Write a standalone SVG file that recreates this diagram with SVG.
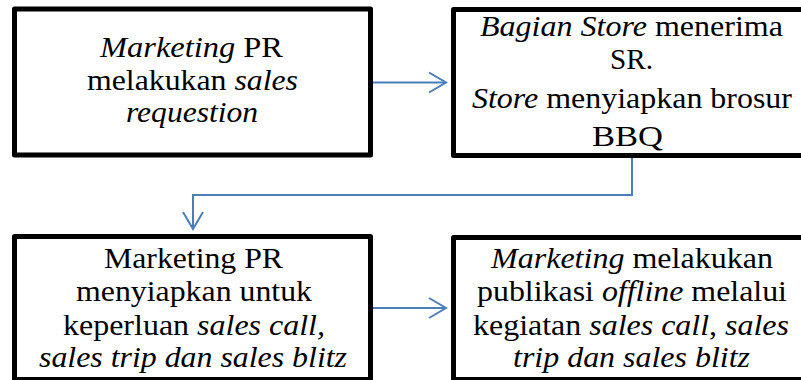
<svg xmlns="http://www.w3.org/2000/svg" width="801" height="380" viewBox="0 0 801 380">
<defs>
<marker id="ah" viewBox="0 0 20 24" refX="18" refY="12" markerWidth="20" markerHeight="24" markerUnits="userSpaceOnUse" orient="auto">
<path d="M1,2 L18,12 L1,22" fill="none" stroke="#4a7ebb" stroke-width="2"/>
</marker>
</defs>
<g id="connectors" fill="none" stroke="#4a7ebb" stroke-width="2">
<line x1="373" y1="82.5" x2="446" y2="82.5" marker-end="url(#ah)"/>
<polyline points="632,157 632,195 193,195 193,229" marker-end="url(#ah)"/>
<line x1="373" y1="308" x2="446" y2="308" marker-end="url(#ah)"/>
</g>
<g id="node1">
<rect x="14.5" y="9" width="356" height="146" fill="#fff" stroke="#000" stroke-width="5" stroke-linejoin="round"/>
<text x="100" y="57" font-size="29" textLength="183" lengthAdjust="spacingAndGlyphs" style="font-family:'Liberation Serif'"><tspan font-style="italic">Marketing</tspan> PR</text>
<text x="87" y="90" font-size="29" textLength="211" lengthAdjust="spacingAndGlyphs" style="font-family:'Liberation Serif'">melakukan <tspan font-style="italic">sales</tspan></text>
<text x="126" y="122" font-size="29" textLength="132" lengthAdjust="spacingAndGlyphs" style="font-family:'Liberation Serif';font-style:italic">requestion</text>
</g>
<g id="node2">
<rect x="453.5" y="9.5" width="356" height="146" fill="#fff" stroke="#000" stroke-width="5" stroke-linejoin="round"/>
<text x="480" y="36" font-size="29" textLength="303" lengthAdjust="spacingAndGlyphs" style="font-family:'Liberation Serif'"><tspan font-style="italic">Bagian Store</tspan> menerima</text>
<text x="610" y="69" font-size="29" textLength="43" lengthAdjust="spacingAndGlyphs" style="font-family:'Liberation Serif'">SR.</text>
<text x="472" y="108" font-size="29" textLength="320" lengthAdjust="spacingAndGlyphs" style="font-family:'Liberation Serif'"><tspan font-style="italic">Store</tspan> menyiapkan brosur</text>
<text x="592" y="146" font-size="29" textLength="71" lengthAdjust="spacingAndGlyphs" style="font-family:'Liberation Serif'">BBQ</text>
</g>
<g id="node3">
<rect x="14.5" y="236.5" width="356" height="143" fill="#fff" stroke="#000" stroke-width="5" stroke-linejoin="round"/>
<text x="104" y="268" font-size="29" textLength="179" lengthAdjust="spacingAndGlyphs" style="font-family:'Liberation Serif'">Marketing PR</text>
<text x="76" y="301" font-size="29" textLength="236" lengthAdjust="spacingAndGlyphs" style="font-family:'Liberation Serif'">menyiapkan untuk</text>
<text x="63" y="335" font-size="29" textLength="262" lengthAdjust="spacingAndGlyphs" style="font-family:'Liberation Serif'">keperluan <tspan font-style="italic">sales call,</tspan></text>
<text x="39" y="367" font-size="29" textLength="308" lengthAdjust="spacingAndGlyphs" style="font-family:'Liberation Serif';font-style:italic">sales trip dan sales blitz</text>
</g>
<g id="node4">
<rect x="453.5" y="237.5" width="356" height="142" fill="#fff" stroke="#000" stroke-width="5" stroke-linejoin="round"/>
<text x="491" y="268" font-size="29" textLength="282" lengthAdjust="spacingAndGlyphs" style="font-family:'Liberation Serif'"><tspan font-style="italic">Marketing</tspan> melakukan</text>
<text x="477" y="301" font-size="29" textLength="310" lengthAdjust="spacingAndGlyphs" style="font-family:'Liberation Serif'">publikasi <tspan font-style="italic">offline</tspan> melalui</text>
<text x="473" y="335" font-size="29" textLength="316" lengthAdjust="spacingAndGlyphs" style="font-family:'Liberation Serif'">kegiatan <tspan font-style="italic">sales call</tspan>, <tspan font-style="italic">sales</tspan></text>
<text x="513" y="367" font-size="29" textLength="237" lengthAdjust="spacingAndGlyphs" style="font-family:'Liberation Serif';font-style:italic">trip dan sales blitz</text>
</g>
</svg>
